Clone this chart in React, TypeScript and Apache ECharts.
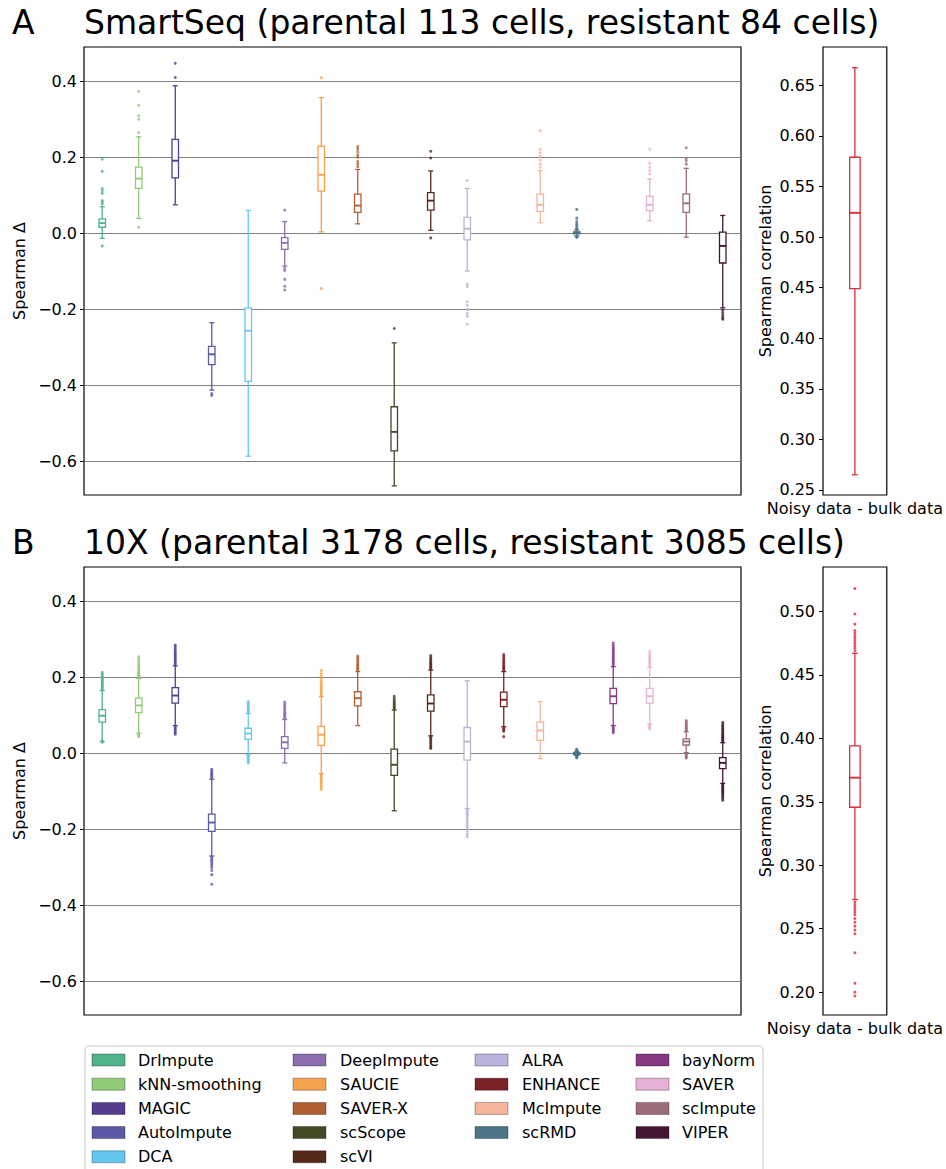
import React, { useEffect, useRef } from 'react';
import * as echarts from 'echarts';

const FONT = 'DejaVu Sans';

const METHODS = [
  'DrImpute', 'kNN-smoothing', 'MAGIC', 'AutoImpute', 'DCA',
  'DeepImpute', 'SAUCIE', 'SAVER-X', 'scScope', 'scVI',
  'ALRA', 'ENHANCE', 'McImpute', 'scRMD',
  'bayNorm', 'SAVER', 'scImpute', 'VIPER',
];
const COLORS = [
  '#4fb48a', '#90cc78', '#553c8f', '#5c5aa6', '#63c7f2',
  '#8b6db0', '#f5a24a', '#b05f33', '#424a26', '#56291a',
  '#bab4dc', '#7b2025', '#f6b49a', '#4b7488',
  '#873883', '#e8b2d6', '#9c6c78', '#451433',
];
const BULK_COLOR = '#dc2f3a';

// [min whisker, Q1, median, Q3, max whisker]
const SS_STATS: (number[] | null)[] = [
  [-0.013, 0.016, 0.027, 0.038, 0.07],
  [0.039, 0.118, 0.144, 0.174, 0.254],
  [0.075, 0.146, 0.191, 0.247, 0.388],
  [-0.412, -0.345, -0.318, -0.297, -0.235],
  [-0.586, -0.389, -0.256, -0.196, 0.06],
  [-0.086, -0.042, -0.025, -0.011, 0.031],
  [0.004, 0.111, 0.154, 0.229, 0.357],
  [0.025, 0.055, 0.073, 0.103, 0.168],
  [-0.664, -0.572, -0.522, -0.456, -0.288],
  [0.008, 0.061, 0.086, 0.107, 0.164],
  [-0.099, -0.017, 0.012, 0.042, 0.118],
  null,
  [0.028, 0.058, 0.075, 0.103, 0.165],
  [-0.007, -0.001, 0.002, 0.004, 0.009],
  null,
  [0.033, 0.06, 0.075, 0.097, 0.143],
  [-0.01, 0.055, 0.079, 0.104, 0.171],
  [-0.196, -0.078, -0.033, 0.003, 0.047],
];
const SS_OUTLIERS: number[][] = [
  [0.195, 0.163, 0.118, 0.112, 0.105, 0.086, 0.082, 0.077, -0.033],
  [0.373, 0.337, 0.309, 0.3, 0.265, 0.016],
  [0.447, 0.41],
  [-0.421, -0.426],
  [],
  [0.061, -0.092, -0.098, -0.121, -0.139, -0.149],
  [0.409, -0.145],
  [0.228, 0.221, 0.214, 0.206, 0.2, 0.189, 0.182, 0.175],
  [-0.25],
  [0.216, 0.198, -0.012],
  [0.139, -0.134, -0.14, -0.18, -0.189, -0.2, -0.21, -0.218, -0.239],
  [],
  [0.27, 0.221, 0.211, 0.202, 0.193, 0.182, 0.174],
  [0.063, 0.04, 0.031, 0.026, 0.022, 0.018, 0.014, 0.011, -0.009, -0.011],
  [],
  [0.221, 0.184, 0.174, 0.165, 0.156],
  [0.225, 0.197, 0.191, 0.182],
  [-0.202, -0.209, -0.216, -0.222, -0.226],
];

const TENX_STATS: (number[] | null)[] = [
  [0.031, 0.082, 0.099, 0.115, 0.165],
  [0.053, 0.107, 0.126, 0.145, 0.197],
  [0.073, 0.132, 0.152, 0.173, 0.23],
  [-0.27, -0.205, -0.182, -0.16, -0.068],
  [-0.004, 0.037, 0.052, 0.066, 0.105],
  [-0.025, 0.013, 0.029, 0.044, 0.089],
  [-0.053, 0.021, 0.049, 0.071, 0.149],
  [0.073, 0.125, 0.145, 0.162, 0.215],
  [-0.151, -0.058, -0.03, 0.011, 0.114],
  [0.046, 0.111, 0.131, 0.154, 0.219],
  [-0.145, -0.018, 0.031, 0.068, 0.191],
  [0.07, 0.123, 0.141, 0.161, 0.215],
  [-0.014, 0.034, 0.06, 0.082, 0.136],
  [-0.006, -0.003, -0.001, 0.002, 0.005],
  [0.073, 0.131, 0.15, 0.171, 0.228],
  [0.077, 0.132, 0.15, 0.171, 0.226],
  [0.002, 0.022, 0.031, 0.038, 0.057],
  [-0.079, -0.04, -0.025, -0.011, 0.028],
];
const TENX_OUTLIERS: number[][] = [
  [0.168, 0.171, 0.174, 0.177, 0.18, 0.183, 0.186, 0.189, 0.192, 0.195, 0.198, 0.201, 0.205, 0.209, 0.213, 0.029, 0.033],
  [0.2, 0.203, 0.206, 0.209, 0.212, 0.216, 0.22, 0.224, 0.228, 0.233, 0.238, 0.243, 0.249, 0.254, 0.05, 0.047, 0.044],
  [0.233, 0.237, 0.241, 0.245, 0.249, 0.253, 0.257, 0.261, 0.265, 0.27, 0.275, 0.28, 0.285, 0.07, 0.066, 0.062, 0.058, 0.054, 0.05],
  [-0.065, -0.062, -0.059, -0.056, -0.053, -0.05, -0.046, -0.042, -0.273, -0.277, -0.281, -0.285, -0.29, -0.295, -0.3, -0.308, -0.319, -0.344],
  [0.108, 0.111, 0.114, 0.117, 0.12, 0.124, 0.128, 0.132, 0.136, -0.007, -0.01, -0.013, -0.016, -0.019, -0.022, -0.025],
  [0.092, 0.095, 0.098, 0.101, 0.104, 0.107, 0.11, 0.114, 0.118, 0.122, 0.126, 0.13, 0.135],
  [0.152, 0.156, 0.16, 0.164, 0.168, 0.172, 0.176, 0.18, 0.185, 0.19, 0.196, 0.203, 0.21, 0.218, -0.056, -0.06, -0.064, -0.068, -0.072, -0.076, -0.08, -0.085, -0.09, -0.095],
  [0.218, 0.221, 0.224, 0.227, 0.23, 0.233, 0.236, 0.24, 0.244, 0.248, 0.252, 0.256],
  [0.117, 0.12, 0.123, 0.126, 0.129, 0.132, 0.136, 0.14, 0.145, 0.15],
  [0.222, 0.225, 0.228, 0.231, 0.234, 0.237, 0.24, 0.244, 0.248, 0.252, 0.257, 0.043, 0.04, 0.036, 0.032, 0.028, 0.024, 0.02, 0.016, 0.013],
  [-0.148, -0.152, -0.156, -0.16, -0.165, -0.17, -0.175, -0.18, -0.186, -0.192, -0.198, -0.205, -0.212, -0.219],
  [0.218, 0.221, 0.224, 0.227, 0.23, 0.234, 0.238, 0.242, 0.246, 0.25, 0.255, 0.26, 0.067, 0.064, 0.061, 0.058, 0.044],
  [],
  [0.007, 0.009, 0.011, -0.008, -0.01, -0.012],
  [0.231, 0.235, 0.239, 0.243, 0.247, 0.251, 0.255, 0.259, 0.263, 0.267, 0.271, 0.275, 0.279, 0.284, 0.29, 0.07, 0.066, 0.062, 0.058, 0.054],
  [0.229, 0.233, 0.237, 0.241, 0.245, 0.249, 0.253, 0.257, 0.262, 0.268, 0.074, 0.071, 0.068, 0.065],
  [0.06, 0.063, 0.066, 0.069, 0.072, 0.075, 0.078, 0.082, 0.086, -0.001, -0.004, -0.007, -0.01, -0.012],
  [0.031, 0.034, 0.037, 0.04, 0.043, 0.046, 0.049, 0.052, 0.056, 0.06, 0.064, 0.068, 0.072, 0.076, 0.081, -0.082, -0.085, -0.088, -0.091, -0.094, -0.097, -0.1, -0.103, -0.106, -0.11, -0.114, -0.118, -0.123],
];

const BULK_CATEGORY = ['Noisy data - bulk data'];
const SS_BULK_STATS = [0.265, 0.449, 0.524, 0.579, 0.6675];
const SS_BULK_OUTLIERS: number[] = [];
const TENX_BULK_STATS = [0.273, 0.3457, 0.369, 0.394, 0.467];
const TENX_BULK_OUTLIERS = [
  0.469, 0.471, 0.473, 0.475, 0.477, 0.479, 0.481, 0.483, 0.485, 0.49, 0.498, 0.518,
  0.271, 0.269, 0.267, 0.265, 0.263, 0.261, 0.258, 0.255, 0.252, 0.249, 0.246, 0.231, 0.207, 0.2, 0.197,
];

const DELTA_TICKS = [-0.6, -0.4, -0.2, 0, 0.2, 0.4];
const SS_BULK_TICKS = [0.25, 0.3, 0.35, 0.4, 0.45, 0.5, 0.55, 0.6, 0.65];
const TENX_BULK_TICKS = [0.2, 0.25, 0.3, 0.35, 0.4, 0.45, 0.5];

const TITLES = [
  { letter: 'A', text: 'SmartSeq (parental 113 cells, resistant 84 cells)' },
  { letter: 'B', text: '10X (parental 3178 cells, resistant 3085 cells)' },
];

const fmt = (d: number) => (v: number) =>
  (v < -1e-9 ? '\u2212' : '') + Math.abs(v).toFixed(d);

function boxSeries(
  xAxisIndex: number,
  rows: { idx: number; s: number[]; color: string }[],
  boxW: number,
  capW: number,
  lw: number,
) {
  return {
    type: 'custom',
    xAxisIndex,
    yAxisIndex: xAxisIndex,
    data: rows.map((r) => [r.idx, ...r.s]),
    encode: { x: 0, y: [1, 2, 3, 4, 5] },
    renderItem: (params: any, api: any) => {
      const r = rows[params.dataIndex];
      const x = r.idx;
      const lo = api.coord([x, r.s[0]]);
      const q1 = api.coord([x, r.s[1]]);
      const md = api.coord([x, r.s[2]]);
      const q3 = api.coord([x, r.s[3]]);
      const hi = api.coord([x, r.s[4]]);
      const cx = lo[0];
      const st = { stroke: r.color, lineWidth: lw, fill: 'none' };
      return {
        type: 'group',
        children: [
          { type: 'line', shape: { x1: cx, y1: lo[1], x2: cx, y2: q1[1] }, style: st },
          { type: 'line', shape: { x1: cx, y1: hi[1], x2: cx, y2: q3[1] }, style: st },
          { type: 'line', shape: { x1: cx - capW / 2, y1: lo[1], x2: cx + capW / 2, y2: lo[1] }, style: st },
          { type: 'line', shape: { x1: cx - capW / 2, y1: hi[1], x2: cx + capW / 2, y2: hi[1] }, style: st },
          {
            type: 'rect',
            shape: { x: cx - boxW / 2, y: q3[1], width: boxW, height: q1[1] - q3[1] },
            style: { stroke: r.color, lineWidth: lw, fill: '#fff' },
          },
          { type: 'line', shape: { x1: cx - boxW / 2, y1: md[1], x2: cx + boxW / 2, y2: md[1] }, style: { stroke: r.color, lineWidth: lw + 0.6 } },
        ],
      };
    },
    z: 3,
  };
}

function outlierSeries(xAxisIndex: number, pts: { idx: number; v: number; color: string }[], size: number) {
  return {
    type: 'scatter',
    xAxisIndex,
    yAxisIndex: xAxisIndex,
    symbol: 'circle',
    symbolSize: size,
    data: pts.map((p) => ({ value: [p.idx, p.v], itemStyle: { color: p.color } })),
    z: 4,
  };
}

function methodRows(stats: (number[] | null)[]) {
  const rows: { idx: number; s: number[]; color: string }[] = [];
  stats.forEach((s, i) => {
    if (s) rows.push({ idx: i, s, color: COLORS[i] });
  });
  return rows;
}
function methodOutliers(out: number[][]) {
  const pts: { idx: number; v: number; color: string }[] = [];
  out.forEach((arr, i) => arr.forEach((v) => pts.push({ idx: i, v, color: COLORS[i] })));
  return pts;
}

export default function App() {
  const ref = useRef<HTMLDivElement>(null);
  useEffect(() => {
    if (!ref.current) return;
    const chart = echarts.init(ref.current, undefined, { renderer: 'svg' });

    const mainTop = [47, 567];
    const H = 448;
    const grids: any[] = [];
    const xAxes: any[] = [];
    const yAxes: any[] = [];
    const labelStyle = { fontFamily: FONT, fontSize: 16, color: '#000' };

    [0, 1].forEach((p) => {
      grids.push({ left: 84, top: mainTop[p], width: 657, height: H, show: true, borderColor: '#000', borderWidth: 1.2, backgroundColor: 'transparent' });
      grids.push({ left: 823, top: mainTop[p], width: 65, height: H, show: true, borderColor: '#000', borderWidth: 1.2, backgroundColor: 'transparent' });
    });

    [0, 1].forEach((p) => {
      const gMain = p * 2;
      const gBulk = p * 2 + 1;
      xAxes.push({
        gridIndex: gMain, type: 'category', data: METHODS, boundaryGap: true,
        axisLine: { show: false }, axisTick: { show: false }, axisLabel: { show: false }, splitLine: { show: false },
      });
      xAxes.push({
        gridIndex: gBulk, type: 'category', data: BULK_CATEGORY, boundaryGap: true,
        axisLine: { show: false }, axisTick: { show: false },
        axisLabel: { ...labelStyle, margin: 5 }, splitLine: { show: false },
      });
      yAxes.push({
        gridIndex: gMain, type: 'value', min: -0.688, max: 0.49,
        axisLine: { show: false },
        axisTick: { show: true, length: 4, lineStyle: { color: '#000' }, customValues: DELTA_TICKS },
        axisLabel: { ...labelStyle, margin: 7, formatter: fmt(1), customValues: DELTA_TICKS },
        splitLine: { show: true, lineStyle: { color: '#808080', width: 1 } },
        name: 'Spearman \u0394', nameLocation: 'middle', nameGap: 47,
        nameTextStyle: { ...labelStyle },
      });
      const bt = p === 0 ? SS_BULK_TICKS : TENX_BULK_TICKS;
      yAxes.push({
        gridIndex: gBulk, type: 'value',
        min: p === 0 ? 0.245 : 0.182, max: p === 0 ? 0.688 : 0.535,
        axisLine: { show: false },
        axisTick: { show: true, length: 4, lineStyle: { color: '#000' }, customValues: bt },
        axisLabel: { ...labelStyle, margin: 8, formatter: fmt(2), customValues: bt },
        splitLine: { show: false },
        name: 'Spearman correlation', nameLocation: 'middle', nameGap: 50,
        nameTextStyle: { ...labelStyle },
      });
    });

    const series: any[] = [
      boxSeries(0, methodRows(SS_STATS), 6.5, 5, 1.3),
      outlierSeries(0, methodOutliers(SS_OUTLIERS), 3),
      boxSeries(1, [{ idx: 0, s: SS_BULK_STATS, color: BULK_COLOR }], 10.5, 6, 1.3),
      outlierSeries(1, SS_BULK_OUTLIERS.map((v) => ({ idx: 0, v, color: BULK_COLOR })), 3),
      boxSeries(2, methodRows(TENX_STATS), 6.5, 5, 1.3),
      outlierSeries(2, methodOutliers(TENX_OUTLIERS), 3),
      boxSeries(3, [{ idx: 0, s: TENX_BULK_STATS, color: BULK_COLOR }], 10.5, 6, 1.3),
      outlierSeries(3, TENX_BULK_OUTLIERS.map((v) => ({ idx: 0, v, color: BULK_COLOR })), 3),
    ];

    const graphics: any[] = [];
    const titleY = [22, 542];
    TITLES.forEach((t, p) => {
      graphics.push({ type: 'text', x: 12, y: titleY[p], style: { text: t.letter, font: `33px "${FONT}"`, fill: '#000', verticalAlign: 'middle', align: 'left' } });
      graphics.push({ type: 'text', x: 84, y: titleY[p], style: { text: t.text, font: `33px "${FONT}"`, fill: '#000', verticalAlign: 'middle', align: 'left' } });
    });

    // legend
    graphics.push({ type: 'rect', shape: { x: 85, y: 1046, width: 678, height: 140, r: 4 }, style: { fill: '#fff', stroke: '#c8c8c8', lineWidth: 1 } });
    const colStarts = [0, 5, 10, 14];
    const colEnds = [5, 10, 14, 18];
    const patchX = [92, 293, 475, 636];
    const textX = [138, 340, 522, 682];
    colStarts.forEach((s, c) => {
      for (let i = s; i < colEnds[c]; i++) {
        const row = i - s;
        const cy = 1060 + row * 24.2;
        graphics.push({ type: 'rect', shape: { x: patchX[c], y: cy - 6, width: 33, height: 12 }, style: { fill: COLORS[i], stroke: 'rgba(0,0,0,0.3)', lineWidth: 1 } });
        graphics.push({ type: 'text', x: textX[c], y: cy, style: { text: METHODS[i], font: `16px "${FONT}"`, fill: '#000', verticalAlign: 'middle', align: 'left' } });
      }
    });

    chart.setOption({
      animation: false,
      backgroundColor: '#fff',
      grid: grids,
      xAxis: xAxes,
      yAxis: yAxes,
      series,
      graphic: graphics,
    });
    return () => chart.dispose();
  }, []);
  return <div ref={ref} style={{ position: 'fixed', left: 0, top: 0, width: 946, height: 1169 }} />;
}
